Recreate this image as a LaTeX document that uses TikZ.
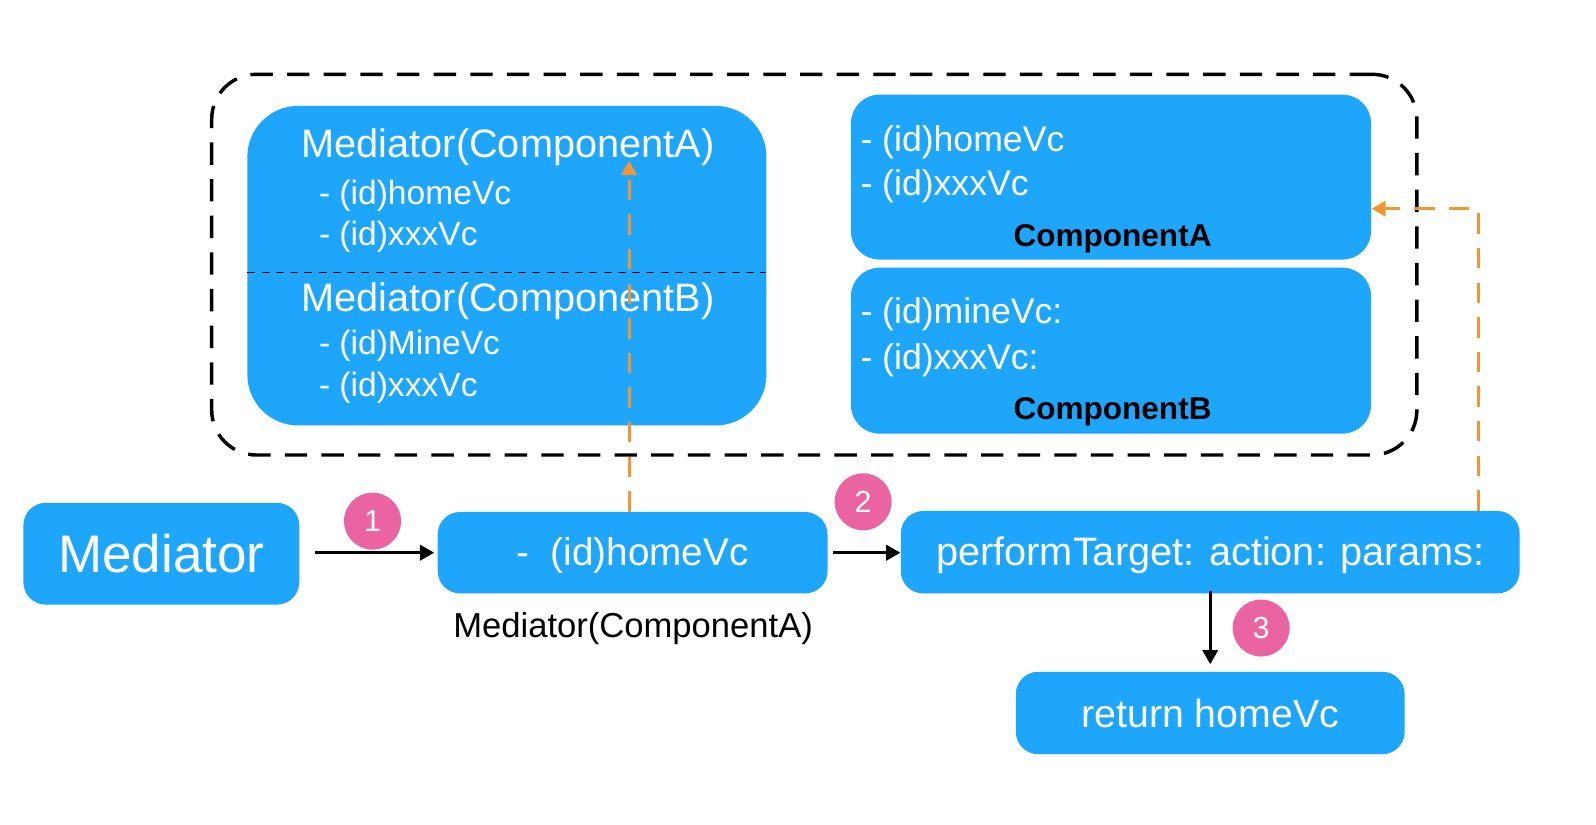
\documentclass[tikz,border=0pt]{standalone}
\usepackage{fontspec}
\setmainfont{Liberation Sans}
\usetikzlibrary{arrows.meta}
\definecolor{mblue}{RGB}{30,165,252}
\definecolor{mpink}{RGB}{233,100,160}
\definecolor{morange}{RGB}{242,150,52}
\newcommand{\fs}[1]{\fontsize{#1}{#1}\selectfont}
\tikzset{
  bbox/.style={fill=mblue, draw=none, rounded corners=11pt, inner sep=0pt, text=white},
  wtxt/.style={text=white, inner sep=0pt, anchor=west},
  numc/.style={circle, fill=mpink, text=white, minimum size=28pt, inner sep=0pt, font=\fs{15}},
  arr/.style={-{Triangle[length=7pt,width=7.5pt]}, line width=1.6pt, draw=black},
  oarr/.style={-{Triangle[length=7pt,width=7.5pt]}, line width=1.5pt, draw=morange, dash pattern=on 10pt off 7pt},
}
\begin{document}
\begin{tikzpicture}[x=0.5pt,y=-0.5pt]
\useasboundingbox (0,0) rectangle (1568,810);
% group dashed
\node[draw=black, line width=1.7pt, dash pattern=on 11pt off 7pt, rounded corners=22pt,
      minimum width=592pt, minimum height=187pt, inner sep=0pt] (grp) at (800,260) {};
% big mediator box
\node[bbox, rounded corners=25pt, minimum width=255pt, minimum height=157pt] (big) at (498,261) {};
\node[wtxt, font=\fs{19.5}] (tA) at (296,145) {Mediator(ComponentA)};
\node[wtxt, font=\fs{16.5}] (a1) at (313,192) {- (id)homeVc};
\node[wtxt, font=\fs{16.5}] (a2) at (313,233) {- (id)xxxVc};
\coordinate (sepL) at (243,268);
\coordinate (sepR) at (753,268);
\draw[black, line width=0.6pt, dash pattern=on 4pt off 3pt] (sepL) -- (sepR);
\node[wtxt, font=\fs{19.5}] (tB) at (296,296) {Mediator(ComponentB)};
\node[wtxt, font=\fs{16.5}] (b1) at (313,340) {- (id)MineVc};
\node[wtxt, font=\fs{16.5}] (b2) at (313,381) {- (id)xxxVc};
% component boxes
\node[bbox, rounded corners=14pt, minimum width=255.5pt, minimum height=81pt] (ca) at (1091.5,174) {};
\node[wtxt, font=\fs{17.5}] (ca1) at (845,140) {- (id)homeVc};
\node[wtxt, font=\fs{17.5}] (ca2) at (845,183) {- (id)xxxVc};
\node[inner sep=0pt, font=\bfseries\fs{15.5}] (caT) at (1093,235) {ComponentA};
\node[bbox, rounded corners=14pt, minimum width=255.5pt, minimum height=81.5pt] (cb) at (1091.5,344.5) {};
\node[wtxt, font=\fs{17.5}] (cb1) at (845,309) {- (id)mineVc:};
\node[wtxt, font=\fs{17.5}] (cb2) at (845,354) {- (id)xxxVc:};
\node[inner sep=0pt, font=\bfseries\fs{15.5}] (cbT) at (1093,405) {ComponentB};
% bottom row
\node[bbox, minimum width=135.5pt, minimum height=50pt, font=\fs{26}] (med) at (158.5,544) {Mediator};
\node[bbox, minimum width=191.5pt, minimum height=40pt, font=\fs{19}, text height=13pt, text depth=0pt] (hv) at (621.5,543) {-~ (id)homeVc};
\node[inner sep=0pt, font=\fs{17}] (cap) at (622,618) {Mediator(ComponentA)};
\node[bbox, minimum width=304pt, minimum height=40.5pt, font=\fs{19.5}, text height=13pt, text depth=0pt] (pf) at (1189,542.5) {performTarget: action: params:};
\node[bbox, minimum width=191pt, minimum height=40.5pt, font=\fs{19.3}] (ret) at (1189,700.5) {return homeVc};
% numbers
\node[numc] (n1) at (366,512) {1};
\node[numc] (n2) at (848,493) {2};
\node[numc] (n3) at (1239,617) {3};
% arrows
\draw[arr, shorten <=7.5pt, shorten >=1.5pt] (med.east |- hv.west) -- (hv.west);
\draw[arr, shorten <=2.5pt] (hv.east) -- (pf.west |- hv.east);
\draw[arr, shorten <=-1.5pt, shorten >=3.5pt] (pf.south) -- (ret.north);
\coordinate (o1) at (618,158);
\draw[oarr] (hv.north -| o1) -- (o1);
\coordinate (o2) at (1453,205);
\draw[oarr] (pf.north -| o2) |- (ca.east |- o2);
\end{tikzpicture}
\end{document}
